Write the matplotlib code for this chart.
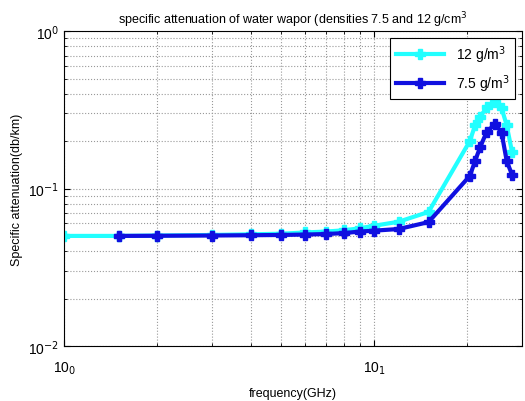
import numpy as np
import matplotlib.pyplot as plt
from matplotlib.ticker import FixedLocator, FixedFormatter, LogLocator, NullFormatter

plt.rcParams['font.family'] = ['Liberation Sans', 'DejaVu Sans']

# data
freq_12 = [1, 1.5, 2, 3, 4, 5, 6, 7, 8, 9, 10, 12, 15, 20.4, 21.2, 22, 23.1, 24.6, 25.8, 26.8, 27.9]
att_12 = [0.050, 0.050, 0.0503, 0.0507, 0.0512, 0.0516, 0.0526, 0.0533, 0.0543, 0.0559, 0.058,
          0.0615, 0.071, 0.201, 0.253, 0.284, 0.329, 0.356, 0.325, 0.253, 0.170]
freq_75 = [1.5, 2, 3, 4, 5, 6, 7, 8, 9, 10, 12, 15, 20.4, 21.2, 22, 23.1, 24.6, 25.8, 26.8, 27.9]
att_75 = [0.050, 0.0501, 0.0503, 0.0505, 0.0507, 0.051, 0.0514, 0.0521, 0.0533, 0.054,
          0.0553, 0.0612, 0.1206, 0.150, 0.183, 0.229, 0.257, 0.227, 0.150, 0.122]

fig = plt.figure(figsize=(5.25, 4.02), dpi=100)
ax = fig.add_axes([0.122, 0.137, 0.872, 0.783])

ax.loglog(freq_12, att_12, color='#22ffff', lw=3, marker='P', ms=6.5, label='12 g/m$^3$')
ax.loglog(freq_75, att_75, color='#1010e0', lw=3, marker='P', ms=6.5, label='7.5 g/m$^3$')

ax.set_xlim(1, 30)
ax.set_ylim(0.01, 1)

ax.xaxis.set_major_locator(FixedLocator([1, 10]))
ax.xaxis.set_major_formatter(FixedFormatter(['10$_0$', '10$_1$']))
ax.xaxis.set_minor_locator(LogLocator(base=10, subs=np.arange(2, 10)))
ax.xaxis.set_minor_formatter(NullFormatter())
ax.yaxis.set_major_locator(FixedLocator([0.01, 0.1, 1]))
ax.yaxis.set_major_formatter(FixedFormatter(['10$^{-2}$', '10$^{-1}$', '10$^{0}$']))
ax.yaxis.set_minor_locator(LogLocator(base=10, subs=np.arange(2, 10)))
ax.yaxis.set_minor_formatter(NullFormatter())

ax.tick_params(which='both', direction='in', top=True, right=True, labelsize=10)
ax.tick_params(which='major', length=4)
ax.tick_params(which='minor', length=2)
ax.tick_params(axis='x', pad=10)
ax.grid(True, which='both', color='#999999', ls=':', lw=0.8)

ax.set_title('specific attenuation of water wapor (densities 7.5 and 12 g/cm$^3$', fontsize=9)
ax.set_xlabel('frequency(GHz)', fontsize=9, labelpad=8)
ax.set_ylabel('Specific attenuation(db/km)', fontsize=9)

leg = ax.legend(loc='upper right', fontsize=10, fancybox=False, edgecolor='black',
                framealpha=1, handlelength=3.5)
leg.get_frame().set_linewidth(0.8)

fig.savefig('out.png', dpi=100)
